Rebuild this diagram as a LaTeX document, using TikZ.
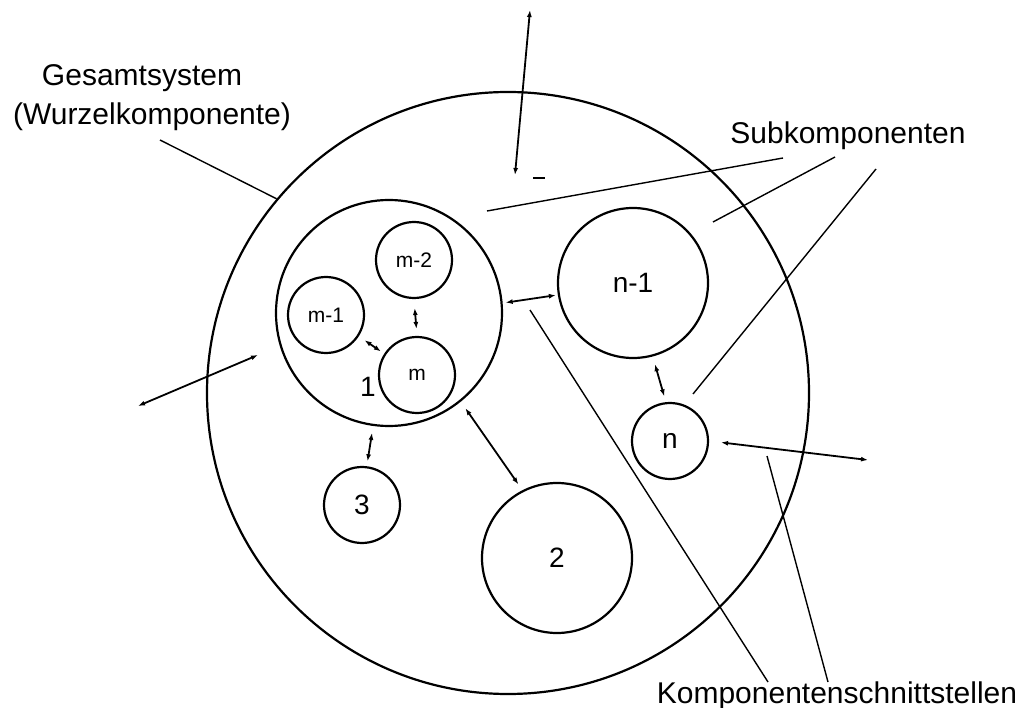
\documentclass[tikz,border=0pt]{standalone}
\usepackage{fontspec}
\setmainfont{Liberation Sans}
\usetikzlibrary{arrows.meta}
\begin{document}
\begin{tikzpicture}[x=1pt,y=-1pt,
  comp/.style={circle,draw,line width=2.2pt,inner sep=0pt},
  conn/.style={line width=1.8pt,{Latex[length=7pt,width=5pt]}-{Latex[length=7pt,width=5pt]}},
  lead/.style={line width=1.4pt},
  lbl/.style={font=\fontsize{30}{36}\selectfont,anchor=base,inner sep=0pt},
  big/.style={font=\fontsize{28}{32}\selectfont},
  small/.style={font=\fontsize{21}{24}\selectfont}]
\useasboundingbox (0,0) rectangle (1031,708);

% root component and its subcomponents
\node[comp,minimum size=602pt] (sys) at (508,393) {};
\node[comp,minimum size=226pt] (c1) at (389,313) {};
\node[comp,small,minimum size=76pt] (m2) at (414,260) {m-2};
\node[comp,small,minimum size=76pt] (m1) at (326,315) {m-1};
\node[comp,small,minimum size=76pt] (m) at (417,375) {m};
\node[big,inner sep=0pt] (one) at (368,387) {1};
\node[comp,big,minimum size=76pt] (c3) at (362,505) {3};
\node[comp,big,minimum size=150pt] (c2) at (557,558) {2};
\node[comp,big,minimum size=150pt] (n1) at (633,283) {n-1};
\node[comp,big,minimum size=76pt] (n) at (670,441) {n};

% interfaces between components
\draw[conn,shorten <=9pt,shorten >=7pt] (m2.-90) -- (m.90);
\draw[conn,shorten <=7pt,shorten >=4pt] (m1.-33) -- (m.147);
\draw[conn,shorten <=3pt,shorten >=2pt] (c1.5) -- (n1.189);
\draw[conn,shorten <=7pt,shorten >=5pt] (c1.-98) -- (c3.83);
\draw[conn,shorten <=8pt,shorten >=7pt] (c1.-51) -- (c2.117);
\draw[conn,shorten <=8pt,shorten >=6pt] (n1.-75) -- (n.96);
\coordinate (nout) at (868,460);
\draw[conn,shorten <=12pt] (n.0) -- (nout);

% interfaces of the whole system
\coordinate (topout) at (530,10);
\coordinate (topin) at (515,175);
\draw[conn] (topout) -- (topin);
\coordinate (leftout) at (138,406);
\coordinate (leftin) at (258,355);
\draw[conn] (leftout) -- (leftin);
\coordinate (dashA) at (533,178);
\coordinate (dashB) at (545,178);
\draw[lead] (dashA) -- (dashB);

% labels
\node[lbl] (tg) at (142,86) {Gesamtsystem};
\node[lbl] (tw) at (152,125) {(Wurzelkomponente)};
\node[lbl] (ts) at (848,144) {Subkomponenten};
\node[lbl] (tk) at (837,703) {Komponentenschnittstellen};

% leader lines
\coordinate (gA) at (160,140);
\draw[lead] (gA) -- (sys.140);
\coordinate (sA) at (783,158); \coordinate (sB) at (487,211);
\coordinate (sC) at (835,157); \coordinate (sD) at (713,222);
\coordinate (sE) at (876,169); \coordinate (sF) at (693,394);
\draw[lead] (sA) -- (sB);
\draw[lead] (sC) -- (sD);
\draw[lead] (sE) -- (sF);
\coordinate (kA) at (768,682); \coordinate (kB) at (530,310);
\coordinate (kC) at (828,682); \coordinate (kD) at (767,456);
\draw[lead] (kA) -- (kB);
\draw[lead] (kC) -- (kD);
\end{tikzpicture}
\end{document}
